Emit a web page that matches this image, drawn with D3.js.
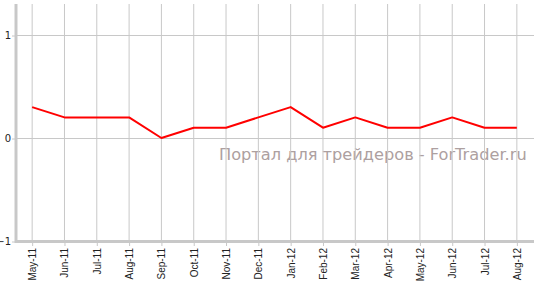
<!DOCTYPE html>
<html>
<head>
<meta charset="utf-8">
<script src="https://cdn.jsdelivr.net/npm/d3@7"></script>
<style>
  body { margin: 0; background: #fff; }
  svg { display: block; }
</style>
</head>
<body>
<svg id="chart" width="534" height="285"></svg>
<script>
// months on the x axis
const months = ["May-11", "Jun-11", "Jul-11", "Aug-11", "Sep-11", "Oct-11", "Nov-11", "Dec-11",
                "Jan-12", "Feb-12", "Mar-12", "Apr-12", "May-12", "Jun-12", "Jul-12", "Aug-12"];
// series values
const values = [0.3, 0.2, 0.2, 0.2, 0, 0.1, 0.1, 0.2, 0.3, 0.1, 0.2, 0.1, 0.1, 0.2, 0.1, 0.1];
// y tick labels
const yTicks = [-1, 0, 1];

const watermark = "Портал для трейдеров - ForTrader.ru";

const width = 534, height = 285;
const plotLeft = 16, plotRight = 533, plotTop = 4, plotBottom = 241;

const svg = d3.select("#chart");

let x = d3.scalePoint()
    .domain(months)
    .range([plotLeft, plotRight])
    .padding(0.5);

let y = d3.scaleLinear()
    .domain([-1, 1])
    .range([plotBottom, plotBottom - 206]);

// watermark sits behind the grid
svg.append("text")
    .attr("x", 219)
    .attr("y", 160)
    .style("font-family", "Verdana, 'DejaVu Sans', sans-serif")
    .style("font-size", "16.2px")
    .style("fill", "#ada0a0")
    .text(watermark);

// vertical grid lines
svg.append("g")
    .selectAll("line")
    .data(months)
    .enter().append("line")
    .attr("x1", d => x(d))
    .attr("x2", d => x(d))
    .attr("y1", plotTop)
    .attr("y2", plotBottom)
    .style("stroke", "#c8c8c8")
    .style("stroke-width", 1);

// horizontal grid lines
svg.append("g")
    .selectAll("line")
    .data(yTicks.filter(d => d !== -1))
    .enter().append("line")
    .attr("x1", plotLeft)
    .attr("x2", width)
    .attr("y1", d => y(d) + 0.5)
    .attr("y2", d => y(d) + 0.5)
    .style("stroke", "#c8c8c8")
    .style("stroke-width", 1);

// y axis
let yAxis = d3.axisLeft(y)
    .tickValues(yTicks)
    .tickSize(4)
    .tickPadding(1)
    .tickFormat(d3.format("d"));

let yg = svg.append("g")
    .attr("transform", "translate(" + plotLeft + ",0.5)")
    .call(yAxis);
yg.select(".domain").remove();
yg.selectAll(".tick line").style("stroke", "#c8c8c8");
yg.selectAll("text")
    .style("font-family", "Verdana, 'DejaVu Sans', sans-serif")
    .style("font-size", "10px")
    .style("fill", "#222");

// axis lines
svg.append("line")
    .attr("x1", plotLeft).attr("x2", plotLeft)
    .attr("y1", plotTop).attr("y2", plotBottom + 2)
    .style("stroke", "#c8c8c8").style("stroke-width", 3);
svg.append("line")
    .attr("x1", plotLeft).attr("x2", width)
    .attr("y1", plotBottom + 0.5).attr("y2", plotBottom + 0.5)
    .style("stroke", "#c8c8c8").style("stroke-width", 3);

// x axis
let xAxis = d3.axisBottom(x)
    .tickSize(4)
    .tickPadding(2);

let xg = svg.append("g")
    .attr("transform", "translate(0," + (plotBottom + 1) + ")")
    .call(xAxis);
xg.select(".domain").remove();
xg.selectAll(".tick line").style("stroke", "#c8c8c8");
xg.selectAll("text")
    .attr("transform", "rotate(-90)")
    .attr("x", -6)
    .attr("y", 0)
    .attr("dy", "0.35em")
    .style("text-anchor", "end")
    .style("font-family", "Arial, 'Liberation Sans', sans-serif")
    .style("font-size", "10px")
    .style("fill", "#222");

// data line
let line = d3.line()
    .x((d, i) => x(months[i]))
    .y(d => y(d));

svg.append("path")
    .datum(values)
    .attr("d", line)
    .style("fill", "none")
    .style("stroke", "#ff0000")
    .style("stroke-width", 2)
    .style("stroke-linejoin", "round");
</script>
</body>
</html>
